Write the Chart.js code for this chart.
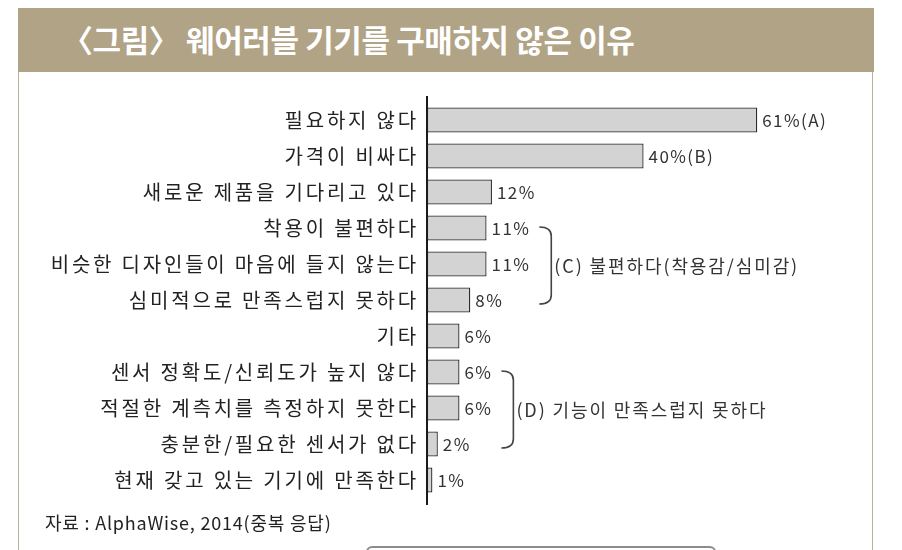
<!DOCTYPE html>
<html>
<head>
<meta charset="utf-8">
<script src="https://cdn.jsdelivr.net/npm/chart.js@4"></script>
<style>
  html, body { margin: 0; padding: 0; background: #fff; }
  #page { position: relative; width: 902px; height: 550px; overflow: hidden; font-family: "Noto Sans CJK KR", sans-serif; }
  #frame { position: absolute; left: 18px; top: 8px; width: 853px; height: 560px; border-left: 1.5px solid #b9b09a; border-right: 1.5px solid #b9b09a; }
  #head { position: absolute; left: 18px; top: 8px; width: 856px; height: 64px; background: #b1a385; }
  #head h1 { margin: 0; position: absolute; left: 44px; top: 9px; color: #fff; font-size: 31px; font-weight: 700; letter-spacing: -0.4px; line-height: 44px; }
  #chartBox { position: absolute; left: 19px; top: 80px; width: 852px; height: 430px; }
  #source { position: absolute; left: 45px; top: 509px; font-size: 18px; color: #222; letter-spacing: 0.8px; }
  #nextBox { position: absolute; left: 366px; top: 546px; width: 346px; height: 12px; border: 2px solid #8c8c8c; border-radius: 6px; }
</style>
</head>
<body>
<div id="page">
  <div id="frame"></div>
  <div id="head"><h1>〈그림〉 웨어러블 기기를 구매하지 않은 이유</h1></div>
  <div id="chartBox"><canvas id="reasonChart"></canvas></div>
  <div id="source">자료 : AlphaWise, 2014(중복 응답)</div>
  <div id="nextBox"></div>
</div>
<script>
const reasons = [
  '필요하지 않다',
  '가격이 비싸다',
  '새로운 제품을 기다리고 있다',
  '착용이 불편하다',
  '비슷한 디자인들이 마음에 들지 않는다',
  '심미적으로 만족스럽지 못하다',
  '기타',
  '센서 정확도/신뢰도가 높지 않다',
  '적절한 계측치를 측정하지 못한다',
  '충분한/필요한 센서가 없다',
  '현재 갖고 있는 기기에 만족한다'
];
const shares = [61, 40, 12, 11, 11, 8, 6, 6, 6, 2, 1];
const tags = ['(A)', '(B)', '', '', '', '', '', '', '', '', ''];
const groups = [
  { from: 3, to: 5, text: '(C) 불편하다(착용감/심미감)' },
  { from: 7, to: 9, text: '(D) 기능이 만족스럽지 못하다' }
];

const FONT = '"Noto Sans CJK KR", sans-serif';

// wide tracking for the category labels
const tracking = {
  id: 'tracking',
  beforeDraw(chart) { chart.ctx.letterSpacing = '2.8px'; }
};

// value labels, axis line and brackets
const extras = {
  id: 'extras',
  afterDatasetsDraw(chart) {
    const ctx = chart.ctx;
    const area = chart.chartArea;
    const meta = chart.getDatasetMeta(0);
    const ends = [];
    ctx.save();
    ctx.letterSpacing = '1.4px';
    ctx.font = '17px ' + FONT;
    ctx.fillStyle = '#333';
    ctx.textBaseline = 'middle';
    meta.data.forEach((bar, i) => {
      const txt = shares[i] + '%' + tags[i];
      const x = bar.x + 5;
      ctx.fillText(txt, x, bar.y + 1);
      ends[i] = x + ctx.measureText(txt).width;
    });

    // vertical axis
    ctx.strokeStyle = '#1a1a1a';
    ctx.lineWidth = 2;
    ctx.beginPath();
    ctx.moveTo(area.left, area.top - 6);
    ctx.lineTo(area.left, area.bottom + 7);
    ctx.stroke();

    // group brackets
    groups.forEach(g => {
      let right = 0;
      for (let i = g.from; i <= g.to; i++) right = Math.max(right, ends[i]);
      const x0 = right + 9;
      const x1 = x0 + 12;
      const top = meta.data[g.from].y - 1;
      const bottom = meta.data[g.to].y + 4;
      ctx.strokeStyle = '#444';
      ctx.lineWidth = 1.6;
      ctx.beginPath();
      ctx.moveTo(x0, top);
      ctx.quadraticCurveTo(x1, top, x1, top + 9);
      ctx.lineTo(x1, bottom - 9);
      ctx.quadraticCurveTo(x1, bottom, x0, bottom);
      ctx.stroke();
      ctx.font = '18px ' + FONT;
      ctx.letterSpacing = '1.9px';
      ctx.fillStyle = '#333';
      ctx.fillText(g.text, x1 + 3, (top + bottom) / 2 + 1);
    });
    ctx.restore();
  }
};

new Chart(document.getElementById('reasonChart'), {
  type: 'bar',
  data: {
    labels: reasons,
    datasets: [{
      data: shares,
      backgroundColor: '#d3d3d3',
      borderColor: '#2a2a2a',
      borderWidth: 1.3,
      borderSkipped: false,
      categoryPercentage: 1,
      barPercentage: 0.7
    }]
  },
  options: {
    indexAxis: 'y',
    responsive: true,
    maintainAspectRatio: false,
    animation: false,
    layout: { padding: { top: 22, bottom: 11, right: 65 } },
    plugins: { legend: { display: false }, tooltip: { enabled: false } },
    scales: {
      x: {
        display: false,
        min: 0,
        max: 70
      },
      y: {
        afterFit(scale) { scale.width = 408; },
        border: { display: false },
        grid: { display: false },
        ticks: {
          padding: 0,
          color: '#222',
          font: { family: FONT, size: 20 }
        }
      }
    }
  },
  plugins: [tracking, extras]
});
</script>
</body>
</html>
